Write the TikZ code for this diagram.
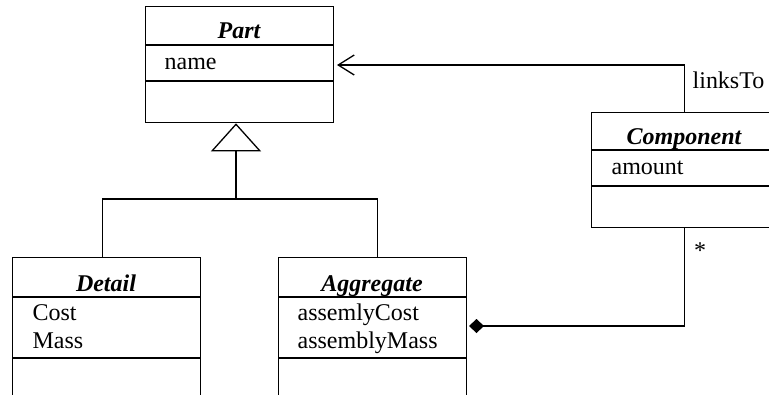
\documentclass[tikz,border=0pt]{standalone}
\usepackage{fontspec}
\setmainfont{Liberation Serif}
\usetikzlibrary{arrows.meta}
\begin{document}
\begin{tikzpicture}[x=1pt,y=-1pt,
  line width=1.3pt,
  classbox/.style={draw,rectangle,anchor=north west,inner sep=0pt,line width=1.3pt},
  txt/.style={inner sep=0pt,font=\fontsize{24pt}{28pt}\selectfont},
  ttl/.style={inner sep=0pt,anchor=base,font=\fontsize{24pt}{28pt}\selectfont\bfseries\itshape},
  attr/.style={txt,anchor=base west,align=left}]
\useasboundingbox (0,0) rectangle (769,394);
% classes
\node[classbox,minimum width=188pt,minimum height=116pt] (part) at (145,6) {};
\draw (145,45) -- (333,45) (145,81) -- (333,81);
\node[ttl] (parttitle) at (239,38) {Part};
\node[attr] (partattr) at (164,69) {name};

\node[classbox,minimum width=186pt,minimum height=115pt] (component) at (591,112) {};
\draw (591,150) -- (777,150) (591,186) -- (777,186);
\node[ttl] (comptitle) at (684,144) {Component};
\node[attr] (compattr) at (611,174) {amount};

\node[classbox,minimum width=188pt,minimum height=160pt] (detail) at (12,257) {};
\draw (12,297) -- (200,297) (12,358) -- (200,358);
\node[ttl] (dettitle) at (106,291) {Detail};
\node[attr] (detattr1) at (32,320) {Cost};
\node[attr] (detattr2) at (32,348) {Mass};

\node[classbox,minimum width=188pt,minimum height=160pt] (aggregate) at (278,257) {};
\draw (278,297) -- (466,297) (278,358) -- (466,358);
\node[ttl] (aggtitle) at (372,291) {Aggregate};
\node[attr] (aggattr1) at (297,320) {assemlyCost};
\node[attr] (aggattr2) at (297,348) {assemblyMass};

% generalization
\coordinate (j) at (236,199);
\draw[-{Triangle[open,width=50pt,length=28pt,line width=1.3pt]}] (j) -- (j |- part.south);
\draw ([xshift=-4pt]detail.north) |- (j) -| ([xshift=5pt]aggregate.north);

% linksTo association
\coordinate (partlink) at (337,65);
\draw[-{Straight Barb[length=16pt,width=20pt,line width=1.3pt]}] (component.north) |- (partlink);
\node[txt,anchor=base west] (linkslabel) at (692,88) {linksTo};

% composition
\coordinate (aggdia) at (469,326);
\draw[{Diamond[length=15pt,width=14pt]}-] (aggdia) -| (component.south);
\node[txt,anchor=center] (mult) at (700,251) {*};
\end{tikzpicture}
\end{document}
